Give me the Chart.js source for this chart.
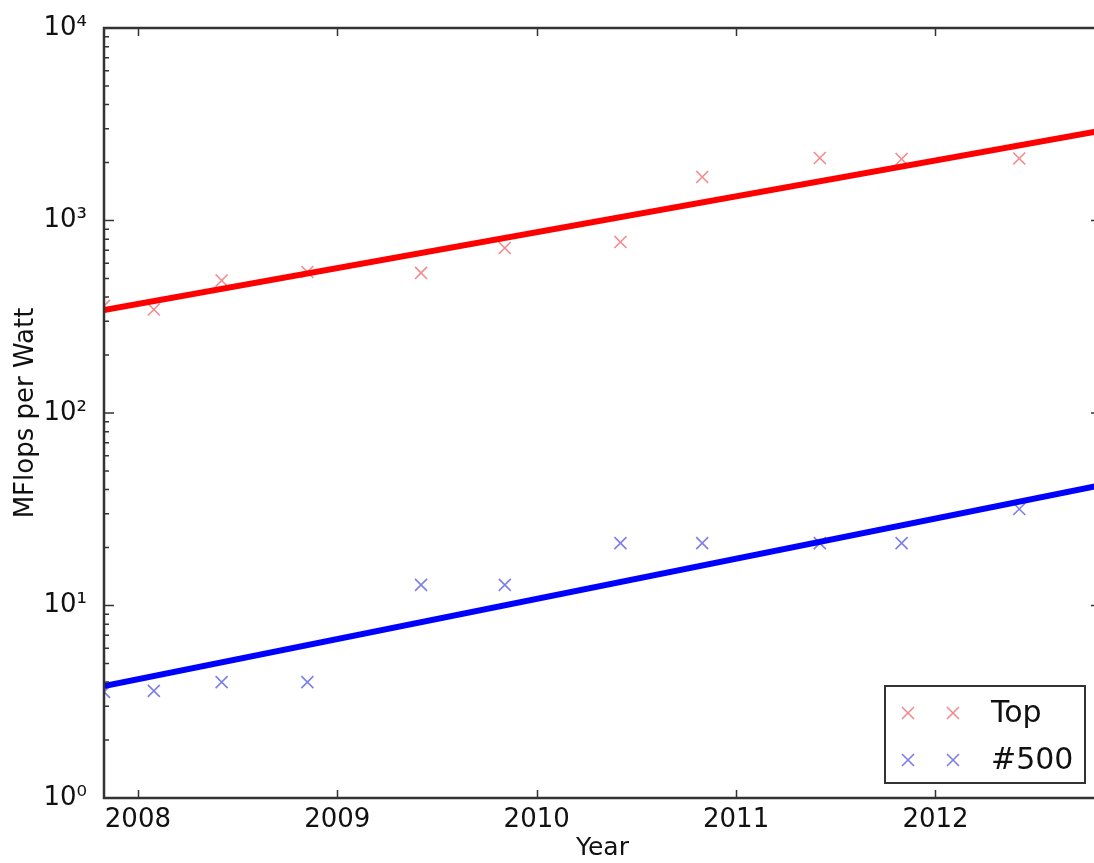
<!DOCTYPE html>
<html lang="en">
<head>
  <meta charset="UTF-8">
  <title>MFlops per Watt</title>
  <script src="https://cdn.jsdelivr.net/npm/chart.js"></script>
  <style>
    html, body {
      margin: 0;
      padding: 0;
      background: #fff;
      overflow: hidden;
    }
    #wrap {
      width: 1094px;
      height: 863px;
      overflow: hidden;
    }
  </style>
</head>
<body>
  <div id="wrap"><canvas id="chart" width="1104" height="863"></canvas></div>

  <script>
    // list dates (year fraction) and measured efficiency
    const listYears = [2007.83, 2008.08, 2008.42, 2008.85, 2009.42, 2009.84, 2010.42, 2010.83, 2011.42, 2011.83, 2012.42];
    const topValues = [360, 345, 488, 540, 534, 720, 773, 1683, 2112, 2086, 2100];
    const lastValues = [3.56, 3.6, 4.0, 4.0, 12.8, 12.8, 21.1, 21.1, 21.1, 21.1, 31.7];

    // fitted trend lines, end points only
    const fitYears = [2007.83, 2012.83];
    const topFit = [343, 2925];
    const lastFit = [3.82, 42.2];

    const yearTicks = [2008, 2009, 2010, 2011, 2012];
    const decades = [1, 10, 100, 1000, 10000];
    const decadeLabels = ['10⁰', '10¹', '10²', '10³', '10⁴'];
    const minorSteps = [2, 3, 4, 5, 6, 7, 8, 9];

    const seriesNames = ['Top', '#500'];
    const markerColors = ['rgba(235, 40, 50, 0.55)', 'rgba(40, 40, 220, 0.6)'];
    const lineColors = ['#ff0000', '#0000ff'];

    const FONT = 'DejaVu Sans';

    function pts(xs, ys) {
      return xs.map((x, i) => ({ x: x, y: ys[i] }));
    }

    function drawX(ctx, x, y, r) {
      const d = r * Math.SQRT1_2;
      ctx.beginPath();
      ctx.moveTo(x - d, y - d); ctx.lineTo(x + d, y + d);
      ctx.moveTo(x - d, y + d); ctx.lineTo(x + d, y - d);
      ctx.stroke();
    }

    // matplotlib style frame: spines, inward ticks, legend box
    const frame = {
      id: 'frame',
      afterDraw(chart) {
        const { ctx, chartArea: a, scales: { x, y } } = chart;
        ctx.save();
        ctx.strokeStyle = '#333';
        ctx.lineWidth = 1.5;
        ctx.beginPath();
        yearTicks.forEach(v => {
          const px = Math.round(x.getPixelForValue(v)) + 0.5;
          ctx.moveTo(px, a.bottom); ctx.lineTo(px, a.bottom - 8);
          ctx.moveTo(px, a.top); ctx.lineTo(px, a.top + 8);
        });
        decades.forEach((d, i) => {
          const py = y.getPixelForValue(d);
          ctx.moveTo(a.left, py); ctx.lineTo(a.left + 10, py);
          ctx.moveTo(a.right, py); ctx.lineTo(a.right - 10, py);
          if (i < decades.length - 1) {
            minorSteps.forEach(m => {
              const pm = y.getPixelForValue(d * m);
              ctx.moveTo(a.left, pm); ctx.lineTo(a.left + 5, pm);
              ctx.moveTo(a.right, pm); ctx.lineTo(a.right - 5, pm);
            });
          }
        });
        ctx.stroke();

        ctx.lineWidth = 2.5;
        ctx.strokeRect(a.left, a.top, a.right - a.left, a.bottom - a.top);

        // legend
        const lx = 885, ly = 686, lw = 200, lh = 97;
        ctx.fillStyle = '#fff';
        ctx.fillRect(lx, ly, lw, lh);
        ctx.lineWidth = 2;
        ctx.strokeRect(lx, ly, lw, lh);
        ctx.font = '30px "' + FONT + '"';
        ctx.textBaseline = 'middle';
        ctx.textAlign = 'left';
        seriesNames.forEach((name, i) => {
          const ry = ly + 27 + i * 47;
          ctx.strokeStyle = markerColors[i];
          ctx.lineWidth = 1.6;
          drawX(ctx, lx + 23, ry, 8.5);
          drawX(ctx, lx + 68, ry, 8.5);
          ctx.fillStyle = '#111';
          ctx.fillText(name, lx + 106, ry + 1);
        });
        ctx.restore();
      }
    };

    const ctx = document.getElementById('chart').getContext('2d');

    const chart = new Chart(ctx, {
      type: 'scatter',
      data: {
        datasets: [
          {
            label: 'Top fit',
            data: pts(fitYears, topFit),
            showLine: true,
            borderColor: lineColors[0],
            borderWidth: 6,
            pointRadius: 0,
            order: 0
          },
          {
            label: '#500 fit',
            data: pts(fitYears, lastFit),
            showLine: true,
            borderColor: lineColors[1],
            borderWidth: 6,
            pointRadius: 0,
            order: 0
          },
          {
            label: seriesNames[0],
            data: pts(listYears, topValues),
            pointStyle: 'crossRot',
            pointRadius: 8.5,
            pointBorderWidth: 1.6,
            borderColor: markerColors[0],
            backgroundColor: markerColors[0],
            order: 1
          },
          {
            label: seriesNames[1],
            data: pts(listYears, lastValues),
            pointStyle: 'crossRot',
            pointRadius: 8.5,
            pointBorderWidth: 1.6,
            borderColor: markerColors[1],
            backgroundColor: markerColors[1],
            order: 1
          }
        ]
      },
      options: {
        responsive: false,
        animation: false,
        layout: {
          // canvas is wider than the page: the plot runs past the right edge, as in the cropped original
          autoPadding: false,
          padding: { left: 0, right: 3, top: 28, bottom: 0 }
        },
        plugins: {
          legend: { display: false },
          tooltip: { enabled: false }
        },
        scales: {
          x: {
            type: 'linear',
            min: 2007.83,
            max: 2012.83,
            grid: { display: false },
            border: { display: false },
            afterBuildTicks: s => { s.ticks = yearTicks.map(v => ({ value: v })); },
            afterFit: s => { s.height = 65; s.paddingLeft = 0; s.paddingRight = 0; },
            ticks: {
              color: '#111',
              padding: -1,
              maxRotation: 0,
              font: { family: FONT, size: 26 },
              callback: v => String(v)
            },
            title: {
              display: true,
              text: 'Year',
              color: '#111',
              padding: { top: 0, bottom: 0 },
              font: { family: FONT, size: 25 }
            }
          },
          y: {
            type: 'logarithmic',
            min: 1,
            max: 10000,
            grid: { display: false },
            border: { display: false },
            afterBuildTicks: s => { s.ticks = decades.map(v => ({ value: v, major: true })); },
            afterFit: s => { s.width = 104; },
            ticks: {
              color: '#111',
              padding: 9,
              autoSkip: false,
              font: { family: FONT, size: 26 },
              callback: v => decadeLabels[decades.indexOf(v)]
            },
            title: {
              display: true,
              text: 'MFlops per Watt',
              color: '#111',
              padding: { top: 11, bottom: 0 },
              font: { family: FONT, size: 26 }
            }
          }
        }
      },
      plugins: [frame]
    });
  </script>
</body>
</html>
